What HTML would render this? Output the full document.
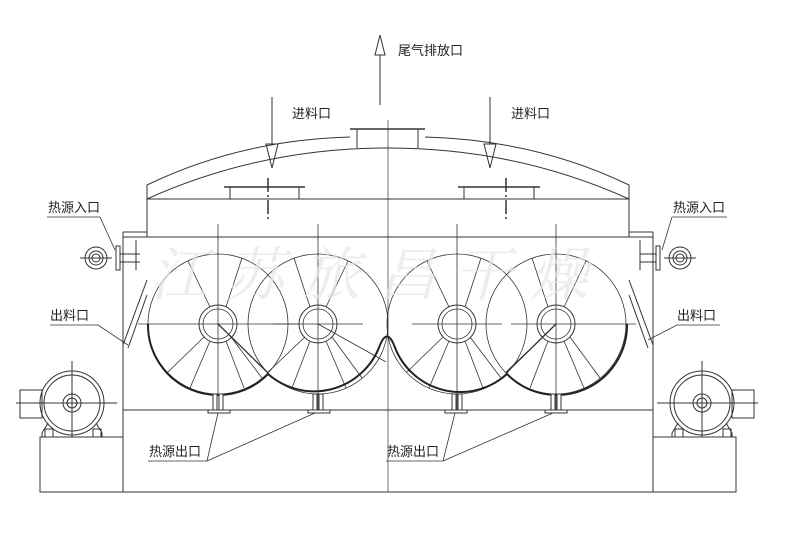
<!DOCTYPE html>
<html><head><meta charset="utf-8"><style>
html,body{margin:0;padding:0;background:#fff;width:800px;height:535px;overflow:hidden}
svg{display:block}
text{font-family:"Liberation Sans","Noto Sans CJK SC",sans-serif;fill:#222;font-size:13px}
</style></head><body>
<svg width="800" height="535" viewBox="0 0 800 535" xmlns="http://www.w3.org/2000/svg">
<g stroke="#333" stroke-width="1" fill="none">
<!-- exhaust arrow -->
<line x1="380" y1="52" x2="380" y2="105"/>
<polygon points="380,35 375,55 385,55" fill="#fff"/>
<!-- feed arrows -->
<line x1="272" y1="97" x2="272" y2="168"/>
<polygon points="266,144 278,144 272,168" fill="#fff"/>
<line x1="490" y1="97" x2="490" y2="168"/>
<polygon points="484,144 496,144 490,168" fill="#fff"/>
<!-- roof arcs -->
<path d="M147,185 Q240,140 350,137"/>
<path d="M425,137 Q536,140 629,185"/>
<path d="M147,199 Q260,148 388,148 Q516,148 629,199"/>
<line x1="147" y1="185" x2="147" y2="237"/>
<line x1="629" y1="185" x2="629" y2="237"/>
<!-- top nozzle -->
<line x1="350" y1="129" x2="425" y2="129" stroke-width="1.5"/>
<line x1="357" y1="129" x2="357" y2="148"/>
<line x1="418" y1="129" x2="418" y2="148"/>
<!-- inner flanges -->
<line x1="224" y1="187" x2="305" y2="187" stroke-width="1.5"/>
<line x1="230" y1="187" x2="230" y2="199"/><line x1="299" y1="187" x2="299" y2="199"/>
<line x1="268" y1="178" x2="268" y2="220" stroke-dasharray="14 3 2 3" stroke-width="1.5"/>
<line x1="458" y1="187" x2="540" y2="187" stroke-width="1.5"/>
<line x1="464" y1="187" x2="464" y2="199"/><line x1="534" y1="187" x2="534" y2="199"/>
<line x1="506" y1="178" x2="506" y2="220" stroke-dasharray="14 3 2 3" stroke-width="1.5"/>
<!-- center line -->
<line x1="388" y1="120" x2="388" y2="492" stroke-width="0.7"/>
<!-- body -->
<line x1="147" y1="199" x2="629" y2="199"/>
<line x1="123" y1="237" x2="653" y2="237"/>
<line x1="123" y1="232" x2="147" y2="232"/>
<line x1="629" y1="232" x2="653" y2="232"/>
<line x1="123" y1="232" x2="123" y2="492"/>
<line x1="653" y1="232" x2="653" y2="492"/>
<line x1="123" y1="410" x2="653" y2="410"/>
<line x1="40" y1="492" x2="736" y2="492"/>
<rect x="40" y="437" width="83" height="55"/>
<rect x="653" y="437" width="83" height="55"/>
<!-- chutes -->
<line x1="147" y1="280" x2="123" y2="345"/><line x1="147" y1="295" x2="128" y2="348"/>
<line x1="629" y1="280" x2="653" y2="345"/><line x1="629" y1="295" x2="648" y2="348"/>
<!-- heat inlet left -->
<circle cx="96" cy="258" r="11"/><circle cx="96" cy="258" r="7"/><circle cx="96" cy="258" r="4"/>
<line x1="80" y1="258" x2="112" y2="258"/>
<rect x="116" y="246" width="4" height="24"/>
<line x1="120" y1="254" x2="140" y2="254"/><line x1="120" y1="262" x2="140" y2="262"/>
<line x1="136" y1="240" x2="136" y2="270"/>
<!-- heat inlet right -->
<circle cx="680" cy="258" r="11"/><circle cx="680" cy="258" r="7"/><circle cx="680" cy="258" r="4"/>
<line x1="664" y1="258" x2="696" y2="258"/>
<rect x="656" y="246" width="4" height="24"/>
<line x1="640" y1="254" x2="656" y2="254"/><line x1="640" y1="262" x2="656" y2="262"/>
<line x1="640" y1="240" x2="640" y2="270"/>
</g>
<!-- rotors -->
<g stroke="#333" fill="none" stroke-width="0.8" id="rotors">
<g transform="translate(218,324)">
<circle r="70"/><circle r="19" stroke-width="1"/><circle r="15"/>
<line x1="-80" y1="0" x2="80" y2="0"/><line x1="0" y1="-100" x2="0" y2="70"/>
<path d="M-8,-17 L-30,-63 M8,-17 L24,-66 M-8,17 L-28,64 M8,17 L26,64 M13,13 L44,54 M-14,13 L-50,48" />
<line x1="0" y1="0" x2="50" y2="49" stroke-width="1.3"/>
</g>
<g transform="translate(318,324)">
<circle r="70"/><circle r="19" stroke-width="1"/><circle r="15"/>
<line x1="-45" y1="0" x2="45" y2="0"/><line x1="0" y1="-100" x2="0" y2="86"/>
<path d="M-8,-17 L-24,-66 M8,-17 L30,-63 M-8,17 L-26,64 M8,17 L28,64 M-13,13 L-50,48 M14,13 L44,54" />
<line x1="0" y1="0" x2="68" y2="38"/>
</g>
<g transform="translate(457,324)">
<circle r="70"/><circle r="19" stroke-width="1"/><circle r="15"/>
<line x1="-45" y1="0" x2="45" y2="0"/><line x1="0" y1="-100" x2="0" y2="86"/>
<path d="M-8,-17 L-30,-63 M8,-17 L24,-66 M-8,17 L-28,64 M8,17 L26,64 M13,13 L44,54 M-14,13 L-50,48" />
</g>
<g transform="translate(556,324)">
<circle r="70"/><circle r="19" stroke-width="1"/><circle r="15"/>
<line x1="-45" y1="0" x2="80" y2="0"/><line x1="0" y1="-100" x2="0" y2="86"/>
<path d="M-8,-17 L-24,-66 M8,-17 L30,-63 M-8,17 L-26,64 M8,17 L28,64 M-13,13 L-50,48 M14,13 L44,54" />
<line x1="0" y1="0" x2="-50" y2="49" stroke-width="1.3"/>
</g>
</g>
<!-- trough -->
<g stroke="#222" fill="none" stroke-width="2">
<path d="M148,324 A70,70 0 0 0 268,374 A70,70 0 0 0 380,345 M394,345 A70,70 0 0 0 507,374 A70,70 0 0 0 627,324"/>
<path d="M380,345 Q387,328 394,345"/>
</g>
<!-- outlets -->
<g stroke="#333" fill="#fff" stroke-width="1">
<rect x="213" y="394" width="4" height="16"/><rect x="219" y="394" width="4" height="16"/><rect x="208" y="410" width="22" height="3"/>
<rect x="313" y="394" width="4" height="16"/><rect x="319" y="394" width="4" height="16"/><rect x="308" y="410" width="22" height="3"/>
<rect x="452" y="394" width="4" height="16"/><rect x="458" y="394" width="4" height="16"/><rect x="445" y="410" width="22" height="3"/>
<rect x="551" y="394" width="4" height="16"/><rect x="557" y="394" width="4" height="16"/><rect x="545" y="410" width="22" height="3"/>
</g>
<!-- motors -->
<g stroke="#333" fill="none" stroke-width="1">
<g transform="translate(72,403)">
<rect x="-52" y="-13" width="22" height="28"/>
<circle r="32"/><circle r="28"/><circle r="9"/><circle r="5"/>
<line x1="-56" y1="0" x2="45" y2="0"/><line x1="0" y1="-42" x2="0" y2="34"/>
<path d="M-24,20 L-30,30 L-30,34 L30,34 L30,30 L24,20"/>
<rect x="-27" y="26" width="8" height="8"/><rect x="21" y="26" width="8" height="8"/>
</g>
<g transform="translate(702,403)">
<rect x="30" y="-13" width="22" height="28"/>
<circle r="32"/><circle r="28"/><circle r="9"/><circle r="5"/>
<line x1="-45" y1="0" x2="56" y2="0"/><line x1="0" y1="-42" x2="0" y2="34"/>
<path d="M-24,20 L-30,30 L-30,34 L30,34 L30,30 L24,20"/>
<rect x="-27" y="26" width="8" height="8"/><rect x="21" y="26" width="8" height="8"/>
</g>
</g>
<!-- leaders -->
<g stroke="#333" fill="none" stroke-width="0.8">
<polyline points="47,217 100,217 115,250"/>
<polyline points="50,325 98,325 128,345"/>
<polyline points="148,461 207,461 218,413"/><line x1="207" y1="461" x2="315" y2="413"/>
<polyline points="386,461 443,461 455,413"/><line x1="443" y1="461" x2="553" y2="413"/>
<polyline points="727,217 672,217 662,250"/>
<polyline points="720,325 677,325 648,340"/>
</g>
<!-- watermark -->
<text x="150" y="295" style="font-size:58px;fill:#e6e6e6;font-style:italic;letter-spacing:18px;font-family:'Noto Serif CJK SC',serif" opacity="0.7">江苏旅昌干燥</text>
<!-- labels -->
<text x="398" y="55">尾气排放口</text>
<text x="292" y="118">进料口</text>
<text x="511" y="118">进料口</text>
<text x="48" y="212">热源入口</text>
<text x="673" y="212">热源入口</text>
<text x="50" y="320">出料口</text>
<text x="677" y="320">出料口</text>
<text x="149" y="456">热源出口</text>
<text x="387" y="456">热源出口</text>
</svg>
</body></html>
